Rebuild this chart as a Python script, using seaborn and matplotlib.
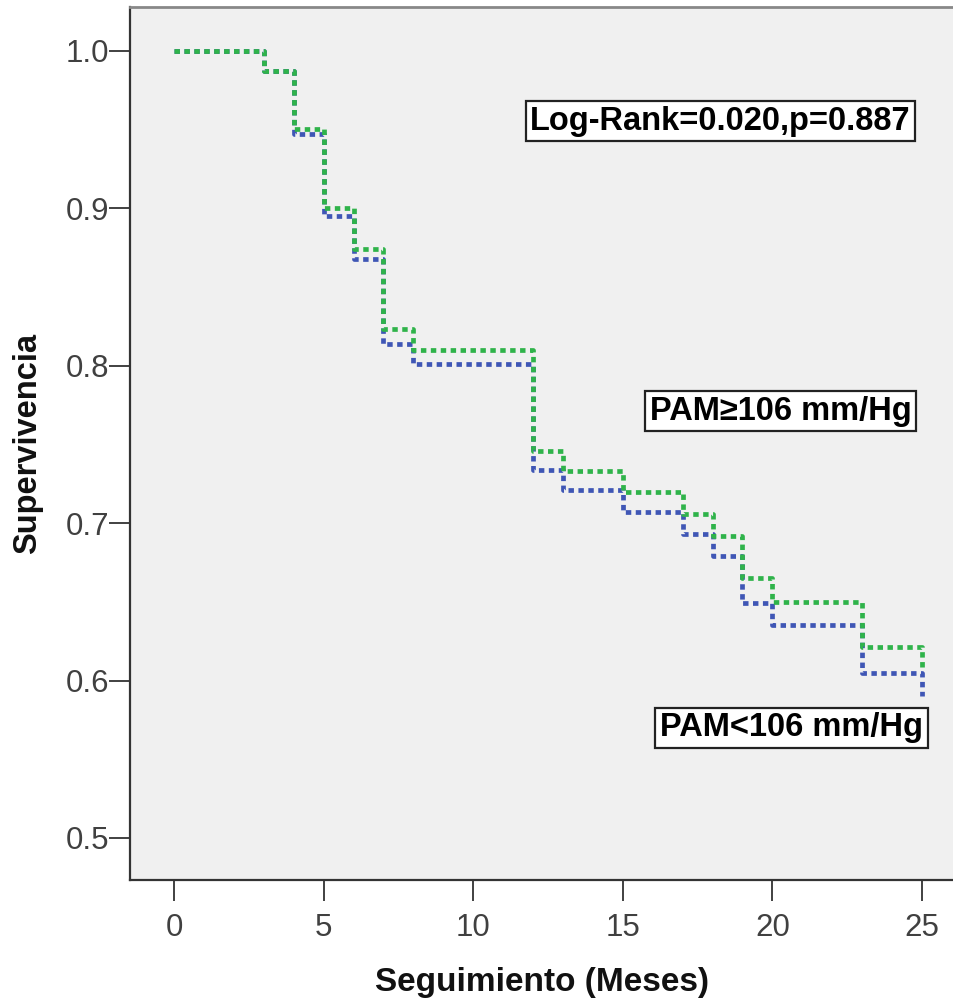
import matplotlib
matplotlib.use("Agg")
import matplotlib.pyplot as plt
import seaborn as sns
import pandas as pd

# Data
tiempo_alto = [0, 3, 4, 5, 6, 7, 8, 12, 13, 15, 17, 18, 19, 20, 23, 25]
surv_alto = [1.0, 0.987, 0.950, 0.900, 0.874, 0.823, 0.810, 0.746, 0.733,
             0.720, 0.706, 0.692, 0.665, 0.650, 0.621, 0.607]
tiempo_bajo = [0, 3, 4, 5, 6, 7, 8, 12, 13, 15, 17, 18, 19, 20, 23, 25]
surv_bajo = [1.0, 0.987, 0.947, 0.895, 0.868, 0.814, 0.801, 0.734, 0.721,
             0.707, 0.693, 0.679, 0.649, 0.635, 0.605, 0.590]

x_ticks = [0, 5, 10, 15, 20, 25]
y_ticks = [0.5, 0.6, 0.7, 0.8, 0.9, 1.0]
y_ticklabels = ["0.5", "0.6", "0.7", "0.8", "0.9", "1.0"]

label_alto = "PAM\u2265106 mm/Hg"
label_bajo = "PAM<106 mm/Hg"
label_test = "Log-Rank=0.020,p=0.887"

df_alto = pd.DataFrame({"t": tiempo_alto, "s": surv_alto})
df_bajo = pd.DataFrame({"t": tiempo_bajo, "s": surv_bajo})

sns.set_theme(style="white")
plt.rcParams["font.family"] = ["Liberation Sans", "DejaVu Sans"]

fig = plt.figure(figsize=(9.54, 9.99), dpi=100)
ax = fig.add_axes([130 / 954, (999 - 880) / 999, 1 - 130 / 954, (880 - 7) / 999])
ax.set_facecolor("#f0f0f0")

blue = "#3f56b5"
green = "#2fb34a"

sns.lineplot(data=df_bajo, x="t", y="s", ax=ax, drawstyle="steps-post",
             estimator=None, color=blue, linewidth=3.4)
sns.lineplot(data=df_alto, x="t", y="s", ax=ax, drawstyle="steps-post",
             estimator=None, color=green, linewidth=3.4)
for ln in ax.lines:
    ln.set_dashes((1.15, 0.95))
    ln.set_dash_capstyle("butt")

ax.set_xlim(-1.47, 26.07)
ax.set_ylim(0.4733, 1.0278)
ax.set_xticks(x_ticks)
ax.set_yticks(y_ticks)
ax.set_yticklabels(y_ticklabels)

for side in ["left", "bottom"]:
    ax.spines[side].set_color("#333333")
    ax.spines[side].set_linewidth(1.6)
ax.spines["top"].set_color("#888888")
ax.spines["top"].set_linewidth(2.0)
ax.spines["right"].set_visible(False)

ax.tick_params(axis="both", direction="out", length=15, width=1.3,
               color="#333333", labelsize=22.5, labelcolor="#404040", pad=0,
               bottom=True, left=True)
ax.tick_params(axis="x", pad=9)

ax.set_xlabel("Seguimiento (Meses)", fontsize=24, fontweight="bold",
              color="#111111", labelpad=17)
ax.set_ylabel("Supervivencia", fontsize=23.5, fontweight="bold",
              color="#111111", labelpad=16)

box = dict(boxstyle="square,pad=0.14", facecolor="white", edgecolor="#222222",
           linewidth=1.6)
ax.text(18.27, 0.9553, label_test, fontsize=23.5, fontweight="bold",
        ha="center", va="center", bbox=box, color="black")
ax.text(20.27, 0.771, label_alto, fontsize=23.5, fontweight="bold",
        ha="center", va="center", bbox=box, color="black")
ax.text(20.64, 0.570, label_bajo, fontsize=23.5, fontweight="bold",
        ha="center", va="center", bbox=box, color="black")

fig.savefig("out.png", dpi=100, facecolor="white")
